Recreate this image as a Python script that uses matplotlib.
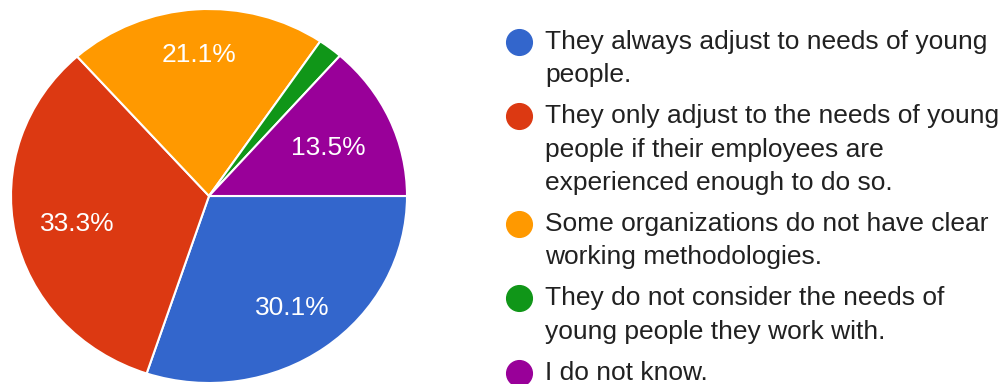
import matplotlib
matplotlib.use("Agg")
import numpy as np
import matplotlib.pyplot as plt

plt.rcParams['font.family'] = ['Liberation Sans', 'DejaVu Sans']

# Survey answers and their shares (%)
categories = [
    "They always adjust to needs of young\npeople.",
    "They only adjust to the needs of young\npeople if their employees are\nexperienced enough to do so.",
    "Some organizations do not have clear\nworking methodologies.",
    "They do not consider the needs of\nyoung people they work with.",
    "I do not know.",
]
shares = [30.1, 33.3, 21.1, 2.0, 13.5]
colors = ["#3366CC", "#DC3912", "#FF9900", "#109618", "#990099"]
# radial position of each percentage label (fraction of radius)
label_radius = [0.72, 0.68, 0.77, 0.7, 0.66]

W, H = 1004, 384
fig = plt.figure(figsize=(W / 100, H / 100), dpi=100)

# Pie area (pixel box: left, top, right, bottom)
px0, py0, px1, py1 = 11, 9, 407, 383
ax = fig.add_axes([px0 / W, 1 - py1 / H, (px1 - px0) / W, (py1 - py0) / H])

def pct_label(p):
    return f"{p:.1f}%" if p >= 5 else ""

wedges, _, autotexts = ax.pie(
    shares, colors=colors, startangle=0, counterclock=False,
    autopct=pct_label, pctdistance=0.7,
    wedgeprops=dict(edgecolor="white", linewidth=1.5),
    textprops=dict(color="white", fontsize=19),
)
for w, t, r in zip(wedges, autotexts, label_radius):
    mid = np.deg2rad((w.theta1 + w.theta2) / 2)
    t.set_position((r * np.cos(mid), r * np.sin(mid)))
    t.set_verticalalignment("center_baseline")
ax.set_aspect("auto")
ax.set_xlim(-1, 1)
ax.set_ylim(-1, 1)
ax.axis("off")

# Legend drawn as marker + wrapped text lines
marker_x = 519
text_x = 545
line_step = 33.3
item_gap = 41
y = 42
for label, col in zip(categories, colors):
    lines = label.split("\n")
    fig.lines.append(plt.Line2D([marker_x / W], [1 - y / H], transform=fig.transFigure,
                                marker="o", markersize=18.5, color=col, linestyle="none"))
    for i, ln in enumerate(lines):
        ly = y + i * line_step
        fig.text(text_x / W, 1 - (ly + 7) / H, ln, fontsize=19, color="#212121",
                 ha="left", va="baseline")
    y = y + (len(lines) - 1) * line_step + item_gap

fig.savefig("out.png", dpi=100)
